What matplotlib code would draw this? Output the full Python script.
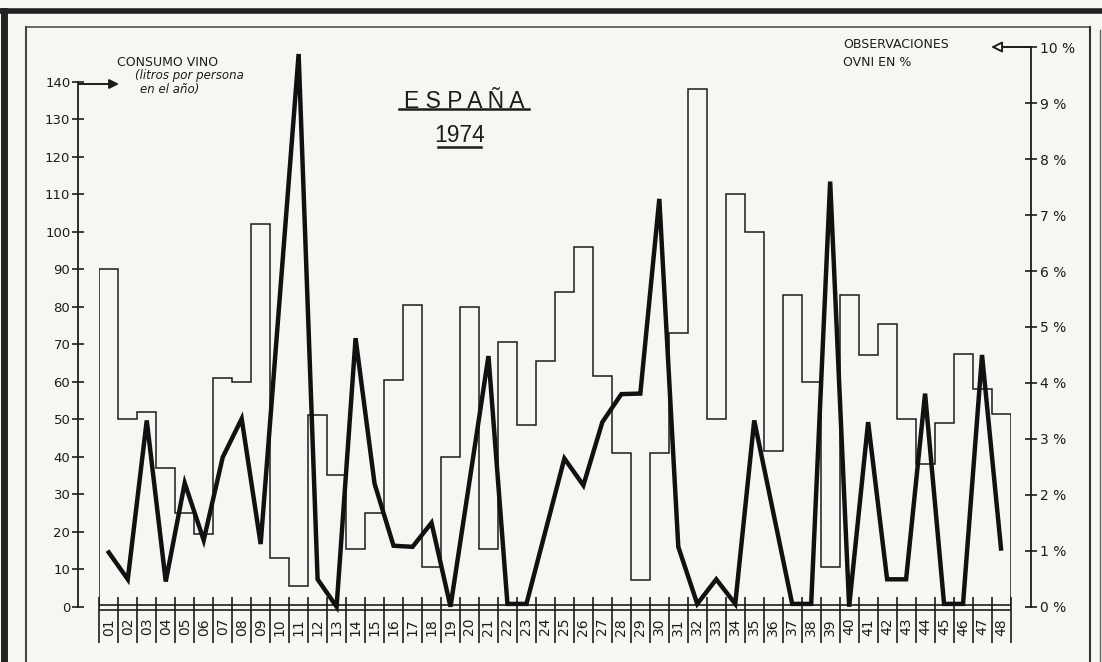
import numpy as np
import matplotlib
matplotlib.use("Agg")
import matplotlib.pyplot as plt
from matplotlib.lines import Line2D

# ---------------- data ----------------
provinces = [f"{i:02d}" for i in range(1, 49)]
# wine consumption, litres per person per year (step outline, left axis)
wine_litres = [90, 50, 52, 37, 25, 19.5, 61, 60, 102, 13,
               5.5, 51, 35, 15.5, 25, 60.5, 80.5, 10.5, 40, 80,
               15.5, 70.5, 48.5, 65.5, 84, 96, 61.5, 41, 7, 41,
               73, 138, 50, 110, 100, 41.5, 83, 60, 10.5, 83,
               67, 75.5, 50, 38, 49, 67.5, 58, 51.5]
# UFO observations in % (thick line, right axis)
ufo_pct = [0.97, 0.49, 3.33, 0.45, 2.21, 1.19, 2.67, 3.36, 1.12, 5.5,
           9.88, 0.49, 0.0, 4.8, 2.2, 1.09, 1.07, 1.5, 0.0, 2.24,
           4.48, 0.05, 0.05, 1.35, 2.65, 2.17, 3.3, 3.8, 3.81, 7.29,
           1.07, 0.05, 0.49, 0.05, 3.33, 1.69, 0.05, 0.05, 7.6, 0.0,
           3.3, 0.49, 0.49, 3.81, 0.05, 0.05, 4.5, 1.04]
left_ticks = list(range(0, 150, 10))
right_ticks = list(range(0, 11))
right_ticklabels = [f"{v} %" for v in right_ticks]

W, H = 1102, 662
INK = "#1c1c1c"
BG = "#f6f6f3"

def fx(x):
    return x / W

def fy(y):
    return 1 - y / H

fig = plt.figure(figsize=(W / 100, H / 100), dpi=100, facecolor=BG)

# plot area in pixels
x0, x1 = 99.3, 1010.5
ybase = 606.7
ytop = 42.0
ax = fig.add_axes([fx(x0), fy(ybase), (x1 - x0) / W, (ybase - ytop) / H])
ax.patch.set_visible(False)
px_per_litre = (ybase - 81.7) / 140.0
px_per_pct = (ybase - 47.3) / 10.0
ax.set_xlim(0, len(provinces))
ax.set_ylim(0, (ybase - ytop) / px_per_litre)

ax2 = ax.twinx()
ax2.patch.set_visible(False)
ax2.set_ylim(0, (ybase - ytop) / px_per_pct)

# spines
for s in ["top", "right", "bottom"]:
    ax.spines[s].set_visible(False)
ax.spines["left"].set_position(("outward", (x0 - 78) * 0.72))
ax.spines["left"].set_bounds(0, 140)
ax.spines["left"].set_linewidth(1.3)
ax.spines["left"].set_color(INK)
for s in ["top", "left", "bottom"]:
    ax2.spines[s].set_visible(False)
ax2.spines["right"].set_position(("outward", (1031 - x1) * 0.72))
ax2.spines["right"].set_bounds(0, 10)
ax2.spines["right"].set_linewidth(1.3)
ax2.spines["right"].set_color(INK)

ax.set_yticks(left_ticks)
ax.set_yticklabels([str(v) for v in left_ticks])
ax.tick_params(axis="y", direction="inout", length=9, width=1.2, colors=INK,
               labelsize=9.5, pad=1)
ax2.set_yticks(right_ticks)
ax2.set_yticklabels(right_ticklabels)
ax2.tick_params(axis="y", direction="inout", length=9, width=1.2, colors=INK,
                labelsize=10, pad=2)
ax.set_xticks([])
ax2.set_xticks([])

n = len(provinces)
edges = np.arange(n + 1)
centers = edges[:-1] + 0.5

# x axis: double baseline, separators and labels
up = 9.7 / px_per_litre
down = 36.5 / px_per_litre
ax.hlines([0.55, -0.75], 0, n, colors=INK, lw=1.2, clip_on=False)
ax.vlines(edges, -down, up, colors=INK, lw=1.2, clip_on=False)
for c, lab in zip(centers, provinces):
    ax.text(c, -20 / px_per_litre, lab, rotation=90, ha="center", va="center",
            fontsize=10, color=INK)

# series
ax.stairs(wine_litres, edges, baseline=0, color=INK, lw=1.1, zorder=2)
ax2.plot(centers, ufo_pct, color="#111111", lw=3.2, solid_joinstyle="miter",
         zorder=3, clip_on=False)

# titles and annotations
fig.text(fx(464), fy(101), "E S P A Ñ A", ha="center", va="center",
         fontsize=16.5, color=INK, family="Liberation Sans")
fig.add_artist(Line2D([fx(399), fx(529)], [fy(109), fy(109)], color=INK, lw=1.8))
fig.text(fx(460), fy(135), "1974", ha="center", va="center",
         fontsize=16.5, color=INK, family="Liberation Sans")
fig.add_artist(Line2D([fx(438), fx(481)], [fy(147), fy(147)], color=INK, lw=1.8))

fig.text(fx(117), fy(62), "CONSUMO VINO", ha="left", va="center",
         fontsize=9, color=INK)
fig.text(fx(135), fy(76), "(litros por persona", ha="left", va="center",
         fontsize=8.5, color=INK, style="italic")
fig.text(fx(140), fy(89), "en el año)", ha="left", va="center",
         fontsize=8.5, color=INK, style="italic")
fig.text(fx(843), fy(45), "OBSERVACIONES", ha="left", va="center",
         fontsize=9, color=INK)
fig.text(fx(843), fy(62), "OVNI EN %", ha="left", va="center",
         fontsize=9, color=INK)

ax.annotate("", xy=(fx(119), fy(84)), xytext=(fx(79), fy(84)),
            xycoords="figure fraction", textcoords="figure fraction",
            arrowprops=dict(arrowstyle="-|>", lw=1.4, color=INK,
                            mutation_scale=14, shrinkA=0, shrinkB=0))
ax.annotate("", xy=(fx(991), fy(47)), xytext=(fx(1031), fy(47)),
            xycoords="figure fraction", textcoords="figure fraction",
            arrowprops=dict(arrowstyle="-|>", lw=1.4, ec=INK, fc="white",
                            mutation_scale=16, shrinkA=0, shrinkB=0))

# scanned page frame
fig.add_artist(Line2D([fx(0), fx(1102)], [fy(11), fy(11)], color="#222", lw=4))
fig.add_artist(Line2D([fx(4), fx(4)], [fy(11), fy(662)], color="#222", lw=5))
fig.add_artist(Line2D([fx(26), fx(1090)], [fy(27), fy(27)], color="#555", lw=1.2))
fig.add_artist(Line2D([fx(26), fx(26)], [fy(27), fy(662)], color="#444", lw=1.5))
fig.add_artist(Line2D([fx(1090), fx(1090)], [fy(27), fy(662)], color="#333", lw=1.5))
fig.add_artist(Line2D([fx(1100), fx(1100)], [fy(30), fy(662)], color="#666", lw=1.0))

fig.savefig("out.png", dpi=100, facecolor=BG)
